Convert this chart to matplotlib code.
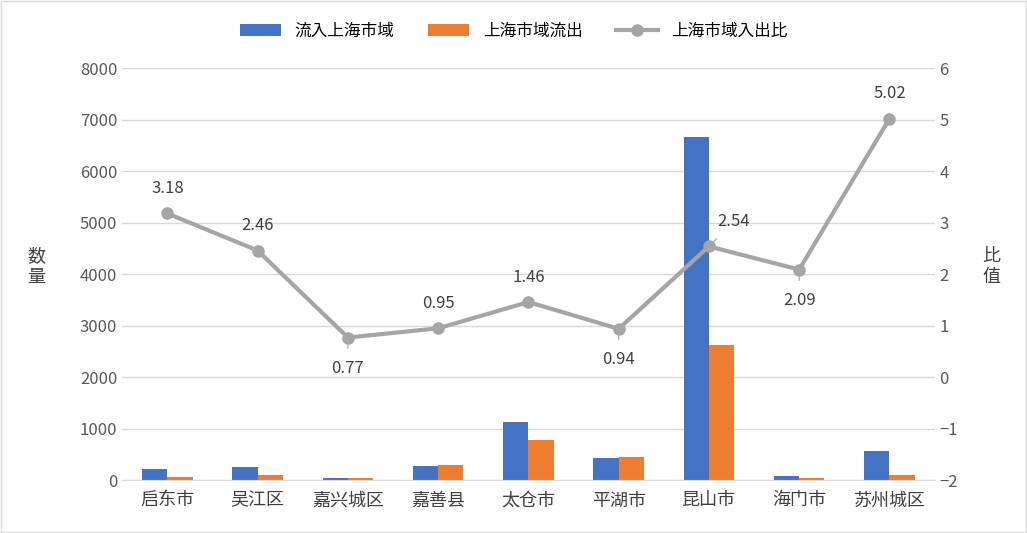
import matplotlib
matplotlib.use("Agg")
import matplotlib.pyplot as plt
from matplotlib import font_manager as fm
import numpy as np

cjk = [f.name for f in fm.fontManager.ttflist if 'CJK' in f.name or 'CJK' in f.fname]
fam = None
for pref in ['Noto Sans CJK SC', 'Noto Sans CJK JP', 'Noto Sans CJK TC', 'Noto Sans CJK KR']:
    if pref in cjk:
        fam = pref
        break
if fam is None and cjk:
    fam = cjk[0]
plt.rcParams['font.family'] = [fam, 'DejaVu Sans'] if fam else ['DejaVu Sans']

categories = ["启东市", "吴江区", "嘉兴城区", "嘉善县", "太仓市", "平湖市", "昆山市", "海门市", "苏州城区"]
inflow = [210, 250, 50, 270, 1130, 430, 6670, 90, 570]
outflow = [60, 100, 50, 290, 780, 460, 2620, 40, 110]
ratio = [3.18, 2.46, 0.77, 0.95, 1.46, 0.94, 2.54, 2.09, 5.02]
label_offsets = [(0, 18), (0, 18), (0, -22), (0, 18), (0, 18), (0, -22), (18, 18), (0, -22), (0, 18)]

fig = plt.figure(figsize=(10.27, 5.33), dpi=100)
ax = fig.add_axes([0.119, 0.099, 0.791, 0.773])
ax2 = ax.twinx()

x = np.arange(len(categories))
w = 0.28
ax.bar(x - w/2, inflow, w, color='#4472C4', label='流入上海市域', zorder=2)
ax.bar(x + w/2, outflow, w, color='#ED7D31', label='上海市域流出', zorder=2)
ax.set_ylim(0, 8000)
ax.set_yticks(range(0, 8001, 1000))
ax.set_xlim(-0.5, len(categories) - 0.5)
ax.set_xticks(x)
ax.set_xticklabels(categories, fontsize=13, color='#404040')
ax.grid(axis='y', color='#D9D9D9', linewidth=1, zorder=0)
ax.tick_params(axis='y', labelsize=12, colors='#595959', length=0)
ax.tick_params(axis='x', length=0, pad=8)
for s in ['top', 'right', 'left']:
    ax.spines[s].set_visible(False)
    ax2.spines[s].set_visible(False)
ax.spines['bottom'].set_color('#D9D9D9')
ax2.spines['bottom'].set_visible(False)

ax2.plot(x, ratio, color='#A5A5A5', linewidth=3, marker='o', markersize=8, label='上海市域入出比', zorder=3)
ax2.set_ylim(-2, 6)
ax2.set_yticks(range(-2, 7))
ax2.set_yticklabels([str(v).replace('-', '−') for v in range(-2, 7)])
ax2.tick_params(axis='y', labelsize=12, colors='#595959', length=0)
for xi, r, (dx, dy) in zip(x, ratio, label_offsets):
    ax2.annotate(f"{r:.2f}", (xi, r), xytext=(dx, dy), textcoords='offset points',
                 ha='center', va='center', fontsize=12, color='#404040',
                 arrowprops=dict(arrowstyle='-', color='#A5A5A5', lw=0.8, shrinkA=6, shrinkB=5))

fig.text(0.035, 0.5, "数\n量", fontsize=13, color='#404040', va='center', ha='center', linespacing=1.2)
fig.text(0.965, 0.5, "比\n值", fontsize=13, color='#404040', va='center', ha='center', linespacing=1.2)

h1, l1 = ax.get_legend_handles_labels()
h2, l2 = ax2.get_legend_handles_labels()
fig.legend(h1 + h2, l1 + l2, loc='upper center', bbox_to_anchor=(0.5, 0.985), ncol=3,
           frameon=False, fontsize=12, handlelength=2.5, columnspacing=2)

fig.patches.append(plt.Rectangle((0.001, 0.001), 0.998, 0.998, transform=fig.transFigure,
                                 fill=False, edgecolor='#D9D9D9', linewidth=1))
fig.savefig("out.png", dpi=100)
